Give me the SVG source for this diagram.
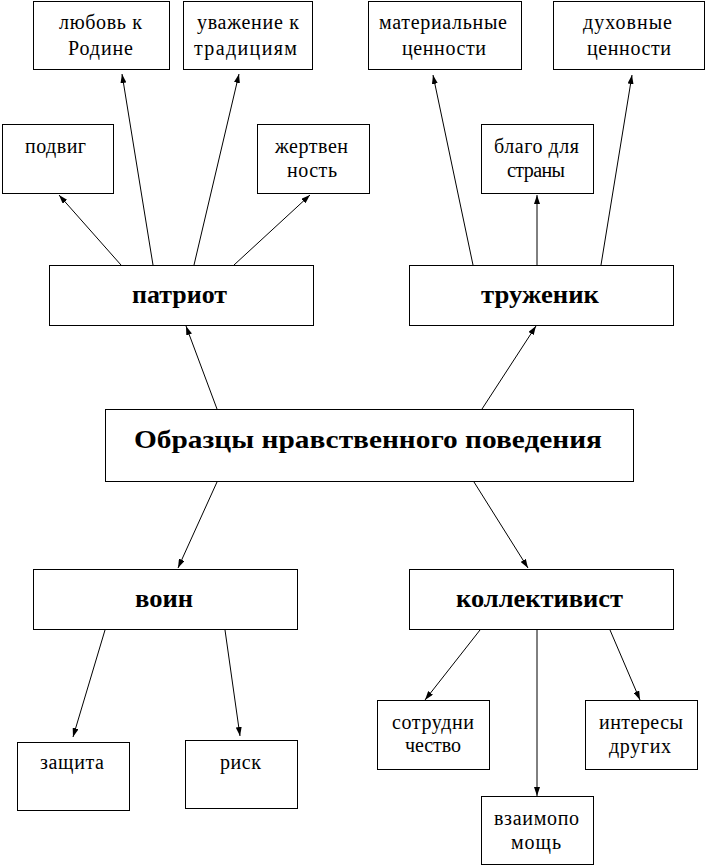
<svg xmlns="http://www.w3.org/2000/svg" width="706" height="866" viewBox="0 0 706 866">
<style>
.n{fill:#fff;stroke:#000;stroke-width:1}
text{font-family:"Liberation Serif","Times New Roman",serif;fill:#000}
.s{font-size:20px}
.b{font-size:26px;font-weight:bold}
.t{font-size:25px;font-weight:bold}
#edges line{stroke:#000;stroke-width:1;marker-end:url(#ah)}
</style>
<defs>
<marker id="ah" viewBox="0 0 9 6" refX="9" refY="3" markerWidth="9" markerHeight="6" markerUnits="userSpaceOnUse" orient="auto">
<path d="M0,0 L9,3 L0,6 z" fill="#000"/>
</marker>
</defs>
<rect width="706" height="866" fill="#fff"/>
<g id="edges">
<line x1="217" y1="409" x2="186" y2="326"/>
<line x1="482" y1="409" x2="536" y2="326"/>
<line x1="121" y1="265" x2="59" y2="195"/>
<line x1="153" y1="265" x2="122" y2="74"/>
<line x1="194" y1="265" x2="239" y2="74"/>
<line x1="234" y1="265" x2="310" y2="195"/>
<line x1="473" y1="265" x2="433" y2="75"/>
<line x1="537" y1="265" x2="537" y2="195"/>
<line x1="601" y1="265" x2="632" y2="75"/>
<line x1="217" y1="482" x2="178" y2="568"/>
<line x1="474" y1="482" x2="528" y2="568"/>
<line x1="105" y1="630" x2="73" y2="737"/>
<line x1="225" y1="630" x2="240" y2="736"/>
<line x1="480" y1="630" x2="425" y2="700"/>
<line x1="537" y1="630" x2="537" y2="796"/>
<line x1="610" y1="630" x2="640" y2="700"/>
</g>
<g id="lubov"><rect class="n" x="33.5" y="1.5" width="136" height="68"/>
<text class="s" x="59" y="29" textLength="83">любовь к</text>
<text class="s" x="68" y="55" textLength="65">Родине</text></g>
<g id="uvazhenie"><rect class="n" x="183.5" y="1.5" width="129" height="68"/>
<text class="s" x="197" y="29" textLength="102">уважение к</text>
<text class="s" x="194" y="55" textLength="103">традициям</text></g>
<g id="material"><rect class="n" x="368.5" y="1.5" width="153" height="68"/>
<text class="s" x="379" y="29" textLength="128">материальные</text>
<text class="s" x="402" y="55" textLength="84">ценности</text></g>
<g id="duhovnye"><rect class="n" x="553.5" y="1.5" width="151" height="68"/>
<text class="s" x="583" y="29" textLength="89">духовные</text>
<text class="s" x="587" y="55" textLength="84">ценности</text></g>
<g id="podvig"><rect class="n" x="2.5" y="124.5" width="111" height="69"/>
<text class="s" x="25" y="153" textLength="61">подвиг</text></g>
<g id="zhertvennost"><rect class="n" x="257.5" y="124.5" width="112" height="69"/>
<text class="s" x="275" y="153" textLength="73">жертвен</text>
<text class="s" x="287" y="177" textLength="50">ность</text></g>
<g id="blago"><rect class="n" x="481.5" y="124.5" width="112" height="69"/>
<text class="s" x="494" y="153" textLength="85">благо для</text>
<text class="s" x="507" y="177" textLength="58">страны</text></g>
<g id="patriot"><rect class="n" x="49.5" y="265.5" width="264" height="60"/>
<text class="b" x="132" y="303" textLength="95" lengthAdjust="spacingAndGlyphs">патриот</text></g>
<g id="truzhenik"><rect class="n" x="409.5" y="265.5" width="264" height="60"/>
<text class="b" x="481" y="303" textLength="118" lengthAdjust="spacingAndGlyphs">труженик</text></g>
<g id="center"><rect class="n" x="105.5" y="409.5" width="528" height="72"/>
<text class="t" x="134" y="448" textLength="468" lengthAdjust="spacingAndGlyphs">Образцы нравственного поведения</text></g>
<g id="voin"><rect class="n" x="33.5" y="569.5" width="264" height="60"/>
<text class="b" x="135" y="607" textLength="58" lengthAdjust="spacingAndGlyphs">воин</text></g>
<g id="kollektivist"><rect class="n" x="409.5" y="569.5" width="264" height="60"/>
<text class="b" x="456" y="607" textLength="167" lengthAdjust="spacingAndGlyphs">коллективист</text></g>
<g id="zashchita"><rect class="n" x="17.5" y="742.5" width="112" height="68"/>
<text class="s" x="40" y="769" textLength="64">защита</text></g>
<g id="risk"><rect class="n" x="185.5" y="740.5" width="112" height="68"/>
<text class="s" x="220" y="769" textLength="41">риск</text></g>
<g id="sotrudnichestvo"><rect class="n" x="377.5" y="700.5" width="112" height="69"/>
<text class="s" x="392" y="729" textLength="82">сотрудни</text>
<text class="s" x="405" y="752" textLength="56">чество</text></g>
<g id="interesy"><rect class="n" x="585.5" y="700.5" width="112" height="69"/>
<text class="s" x="599" y="729" textLength="84">интересы</text>
<text class="s" x="609" y="753" textLength="62">других</text></g>
<g id="vzaimopomoshch"><rect class="n" x="481.5" y="796.5" width="112" height="68"/>
<text class="s" x="494" y="825" textLength="85">взаимопо</text>
<text class="s" x="511" y="849" textLength="50">мощь</text></g>
</svg>
